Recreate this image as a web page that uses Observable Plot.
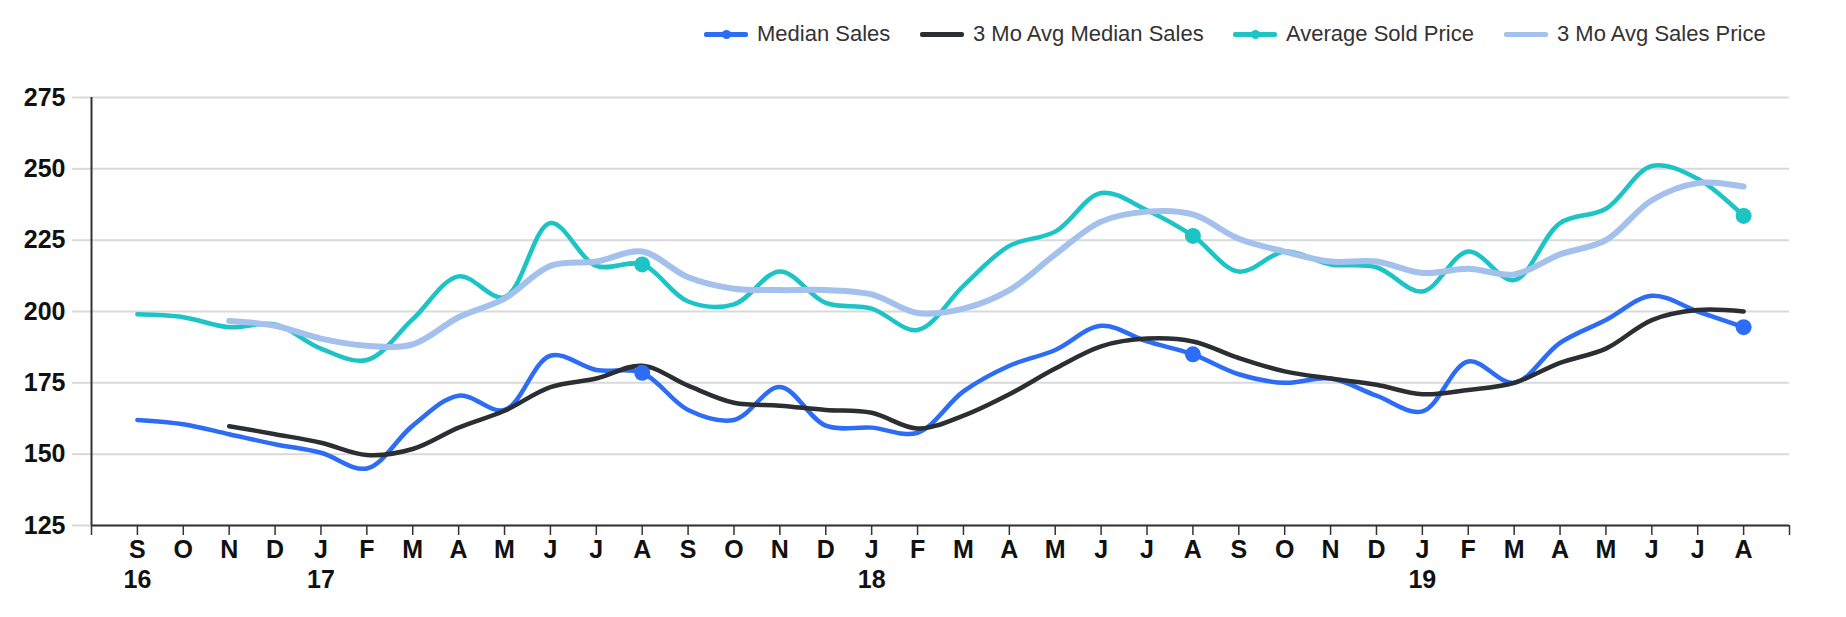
<!DOCTYPE html>
<html>
<head>
<meta charset="utf-8">
<script src="https://cdn.jsdelivr.net/npm/d3@7"></script>
<script src="https://cdn.jsdelivr.net/npm/@observablehq/plot@0.6"></script>
<style>
  html, body { margin: 0; padding: 0; background: #fff; }
  body { width: 1846px; height: 617px; overflow: hidden; font-family: "Liberation Sans", Arial, sans-serif; }
  #legend { position: relative; height: 60px; }
  .item { position: absolute; top: 22px; height: 24px; display: flex; align-items: center; font-size: 22px; color: #333; white-space: nowrap; }
  .sw { width: 44px; height: 5px; margin-right: 9px; position: relative; border-radius: 2px; }
  .sw .dot { position: absolute; left: 50%; top: 50%; width: 9px; height: 9px; margin: -4.5px 0 0 -4.5px; border-radius: 50%; }
  #chart svg { display: block; }
</style>
</head>
<body>
<div id="legend"></div>
<div id="chart"></div>
<script>
// ---- data ----
const months = ["S","O","N","D","J","F","M","A","M","J","J","A",
                "S","O","N","D","J","F","M","A","M","J","J","A",
                "S","O","N","D","J","F","M","A","M","J","J","A"];
const yearIndex = [0, 4, 16, 28];
const yearLabels = ["16", "17", "18", "19"];
const yTicks = [125, 150, 175, 200, 225, 250, 275];

const medianSales = [162, 160.5, 157, 153.5, 150.5, 145, 160, 170.5, 165.5, 184.5, 179.5, 178.5,
                     165.5, 162, 173.5, 160, 159.3, 157.5, 172, 181, 186.5, 195, 189.5, 185,
                     178, 175, 176.5, 170.5, 165, 182.5, 175, 189, 197, 205.5, 200, 194.5];
const avgMedianSales = [null, null, 159.8, 157, 154, 149.7, 151.8, 159.3, 165.2, 173.5, 176.5, 181,
                        174, 168, 167, 165.5, 164.5, 159, 163.5, 171, 180, 187.8, 190.5, 189.5,
                        183.7, 179, 176.5, 174.3, 171, 172.5, 175, 182, 187, 197, 200.5, 200];
const avgSoldPrice = [199, 198, 194.5, 195.5, 187, 183, 197.3, 212.3, 205, 231, 216, 216.5,
                      203.5, 202.5, 214, 203, 201, 193.5, 209, 223, 228, 241.5, 235.5, 226.5,
                      214, 221, 216.5, 215.5, 207, 221, 211, 231, 236, 251, 246.5, 233.5];
const avgSalesPrice = [null, null, 196.7, 195, 190.5, 188, 188.5, 198, 204.5, 216, 217.5, 221,
                       212, 208, 207.5, 207.5, 206, 199.5, 201, 207.5, 220, 231.5, 235, 234,
                       225.5, 221, 217.5, 217.5, 213.5, 215, 213, 220, 225, 239, 245, 243.8];
const markerIndex = [11, 23, 35];

const seriesNames = ["Median Sales", "3 Mo Avg Median Sales", "Average Sold Price", "3 Mo Avg Sales Price"];
const seriesValues = [medianSales, avgMedianSales, avgSoldPrice, avgSalesPrice];
const seriesColors = ["#2d6cf5", "#2b2f33", "#1cc4c6", "#a3c1ec"];
const seriesWidths = [4.5, 4.5, 4.5, 6];
const seriesMarkers = [true, false, true, false];
const legendLeft = [704, 920, 1233, 1504];

// ---- legend ----
const legend = document.getElementById("legend");
seriesNames.forEach((name, k) => {
  const item = document.createElement("div");
  item.className = "item";
  item.style.left = legendLeft[k] + "px";
  const sw = document.createElement("span");
  sw.className = "sw";
  sw.style.background = seriesColors[k];
  if (seriesMarkers[k]) {
    const d = document.createElement("span");
    d.className = "dot";
    d.style.background = seriesColors[k];
    sw.appendChild(d);
  }
  const t = document.createElement("span");
  t.textContent = name;
  item.appendChild(sw);
  item.appendChild(t);
  legend.appendChild(item);
});

// ---- chart ----
const rows = [];
seriesValues.forEach((vals, k) => {
  vals.forEach((v, i) => { if (v != null) rows.push({i, v, s: k}); });
});
const xDomain = [-1, months.length];
const xTicks = d3.range(-1, months.length + 1);

const marks = [
  Plot.gridY(yTicks, {stroke: "#d9d9d9", strokeOpacity: 1, strokeWidth: 2}),
  Plot.axisY(yTicks, {tickSize: 19, tickPadding: 7, stroke: "#d9d9d9", strokeWidth: 2, strokeOpacity: 1, label: null, fill: "#111"}),
  Plot.axisX(xTicks, {tickSize: 10, tickPadding: 5, tickFormat: i => months[i] ?? "", label: null, stroke: "#333", strokeWidth: 1.5, fill: "#111"}),
  Plot.axisX(yearIndex, {tickSize: 0, tickPadding: 45, tickFormat: i => yearLabels[yearIndex.indexOf(i)], label: null, fill: "#111"}),
];
seriesValues.forEach((vals, k) => {
  marks.push(Plot.line(rows.filter(r => r.s === k), {
    x: "i", y: "v", stroke: seriesColors[k], strokeWidth: seriesWidths[k], curve: "catmull-rom"
  }));
});
seriesValues.forEach((vals, k) => {
  if (!seriesMarkers[k]) return;
  marks.push(Plot.dot(rows.filter(r => r.s === k && markerIndex.includes(r.i)), {
    x: "i", y: "v", r: 8, fill: seriesColors[k], stroke: "none"
  }));
});
marks.push(Plot.ruleY([yTicks[0]], {stroke: "#333", strokeWidth: 2}));
marks.push(Plot.ruleX([xDomain[0]], {stroke: "#333", strokeWidth: 2}));

const chart = Plot.plot({
  width: 1846,
  height: 557,
  marginTop: 37,
  marginBottom: 92,
  marginLeft: 91,
  marginRight: 57,
  x: {type: "linear", domain: xDomain, axis: null},
  y: {domain: [yTicks[0], yTicks[yTicks.length - 1]], axis: null},
  style: {fontFamily: "'Liberation Sans', Arial, sans-serif", fontSize: "25px", fontWeight: "bold", color: "#111", background: "#fff", overflow: "visible"},
  marks
});
document.getElementById("chart").appendChild(chart);
</script>
</body>
</html>
